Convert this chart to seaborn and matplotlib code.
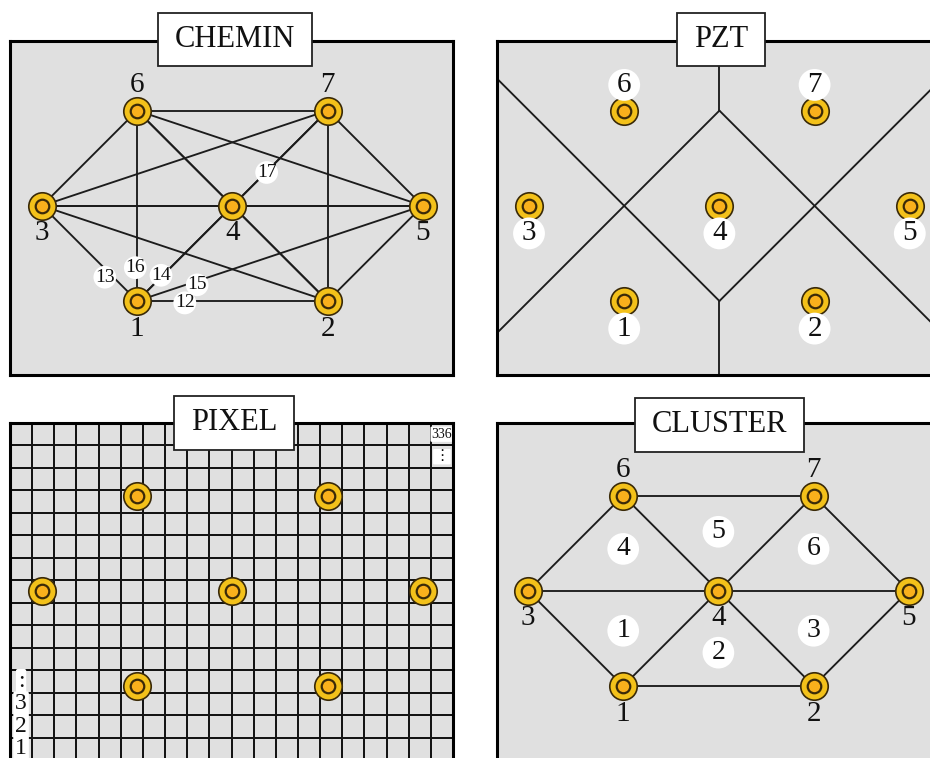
import numpy as np
import pandas as pd
import matplotlib
matplotlib.use("Agg")
import matplotlib.pyplot as plt
import seaborn as sns
from matplotlib.colors import ListedColormap

# ---------------- data ----------------
node_ids = [1, 2, 3, 4, 5, 6, 7]
node_x = [1, 3, 0, 2, 4, 1, 3]
node_y = [0, 0, 1, 1, 1, 2, 2]

# CHEMIN: every sensor pair is a path
chemin_from = [1, 1, 1, 1, 1, 1, 2, 2, 2, 2, 2, 3, 3, 3, 3, 4, 4, 4, 5, 5, 6]
chemin_to = [2, 3, 4, 5, 6, 7, 3, 4, 5, 6, 7, 4, 5, 6, 7, 5, 6, 7, 6, 7, 7]
path_label_ids = [12, 13, 14, 15, 16, 17]
path_label_x = [1.50, 0.66, 1.25, 1.63, 0.98, 2.36]
path_label_y = [-0.02, 0.25, 0.27, 0.17, 0.35, 1.35]

# PZT: Voronoi cell borders (vertex -> far end, clipped by the frame)
pzt_x0 = [2, 2, 2, 2, 2, 2]
pzt_y0 = [2, 0, 2, 0, 2, 0]
pzt_x1 = [-1, -1, 5, 5, 2, 2]
pzt_y1 = [-1, 3, -1, 3, 3, -1]

# PIXEL: regular grid of cells
pixel_rows = 15
pixel_cols = 20
pixel_label_text = ["1", "2", "3", ":", "336", "\u22ee"]
pixel_label_row = [14, 13, 12, 11, 0, 1]
pixel_label_col = [0, 0, 0, 0, 19, 19]

# CLUSTER: triangular sub-areas
cluster_from = [6, 3, 6, 7, 7, 3, 4, 3, 1, 4, 2, 1]
cluster_to = [7, 6, 4, 4, 5, 4, 5, 1, 4, 2, 5, 2]
cluster_ids = [1, 2, 3, 4, 5, 6]
cluster_x = [1, 2, 3, 1, 2, 3]
cluster_y = [0.58, 0.35, 0.58, 1.44, 1.62, 1.44]

titles = ["CHEMIN", "PZT", "PIXEL", "CLUSTER"]

# ---------------- style ----------------
sns.set_style("white")
FAMILY = ["Liberation Serif", "DejaVu Sans"]
plt.rcParams["font.family"] = FAMILY

GRAY = "#E0E0E0"
GOLD = "#F3C11A"
ORANGE = "#F9B01C"
DARK = "#3A2A08"
LINE = "#1C1C1C"

W, H = 930, 758
fig = plt.figure(figsize=(W / 100, H / 100), dpi=100)
fig.patch.set_facecolor("white")

UNIT = 95.2


def make_axes(box, origin):
    L, T, R, B = box
    ax = fig.add_axes([L / W, 1 - B / H, (R - L) / W, (B - T) / H])
    ox, oy = origin
    ax.set_xlim((L - ox) / UNIT, (R - ox) / UNIT)
    ax.set_ylim((oy - B) / UNIT, (oy - T) / UNIT)
    return ax


def finish(ax, face=GRAY):
    ax.set_facecolor(face)
    ax.set_xticks([])
    ax.set_yticks([])
    ax.set_xlabel("")
    ax.set_ylabel("")
    for sp in ax.spines.values():
        sp.set_visible(True)
        sp.set_linewidth(2.2)
        sp.set_color("black")
        sp.set_zorder(6)


def title_box(ax, box, center, text):
    L, T, R, B = box
    cx, cy = center
    ax.text((cx - L) / (R - L), (B - cy) / (B - T), text, transform=ax.transAxes,
            ha="center", va="center", fontsize=22, color="#111111", zorder=10,
            clip_on=False,
            bbox=dict(boxstyle="square,pad=0.55", mutation_aspect=0.72,
                      fc="white", ec="#222222", lw=1.3))


def draw_edges(ax, frm, to):
    rows = []
    for k, (a, b) in enumerate(zip(frm, to)):
        ia, ib = node_ids.index(a), node_ids.index(b)
        rows.append({"x": node_x[ia], "y": node_y[ia], "edge": k})
        rows.append({"x": node_x[ib], "y": node_y[ib], "edge": k})
    df = pd.DataFrame(rows)
    sns.lineplot(data=df, x="x", y="y", units="edge", estimator=None, sort=False,
                 color=LINE, linewidth=1.35, ax=ax, zorder=2, legend=False)


def draw_nodes(ax):
    sns.scatterplot(x=node_x, y=node_y, s=390, color=GOLD, edgecolor=DARK,
                    linewidth=1.2, ax=ax, zorder=4, legend=False)
    sns.scatterplot(x=node_x, y=node_y, s=95, color=ORANGE, edgecolor=DARK,
                    linewidth=1.6, ax=ax, zorder=5, legend=False)


def node_labels(ax, white=False):
    top = max(node_y)
    for nid, x, y in zip(node_ids, node_x, node_y):
        dy = 0.27 if y == top else -0.29
        kw = {}
        if white:
            kw["bbox"] = dict(boxstyle="circle,pad=0.1", fc="white", ec="none")
        ax.text(x, y + dy, str(nid), ha="center", va="center", fontsize=21,
                color="#111111", zorder=6, **kw)


# ---------------- panel 1: CHEMIN ----------------
box1 = (10, 41, 453, 375)
ax1 = make_axes(box1, (42, 301))
draw_edges(ax1, chemin_from, chemin_to)
draw_nodes(ax1)
node_labels(ax1)
for lid, x, y in zip(path_label_ids, path_label_x, path_label_y):
    ax1.text(x, y, str(lid), ha="center", va="center", fontsize=14, color="#111111",
             zorder=6, bbox=dict(boxstyle="circle,pad=0.08", fc="white", ec="none"))
finish(ax1)
title_box(ax1, box1, (235, 39.5), titles[0])

# ---------------- panel 2: PZT ----------------
box2 = (497, 41, 940, 375)
ax2 = make_axes(box2, (529, 301))
seg_rows = []
for k in range(len(pzt_x0)):
    seg_rows.append({"x": pzt_x0[k], "y": pzt_y0[k], "seg": k})
    seg_rows.append({"x": pzt_x1[k], "y": pzt_y1[k], "seg": k})
sns.lineplot(data=pd.DataFrame(seg_rows), x="x", y="y", units="seg", estimator=None,
             sort=False, color=LINE, linewidth=1.35, ax=ax2, zorder=2, legend=False)
ax2.set_xlim((497 - 529) / UNIT, (940 - 529) / UNIT)
ax2.set_ylim((301 - 375) / UNIT, (301 - 41) / UNIT)
draw_nodes(ax2)
node_labels(ax2, white=True)
finish(ax2)
title_box(ax2, box2, (721, 39.5), titles[1])

# ---------------- panel 3: PIXEL ----------------
box3 = (10, 423, 453, 760)
L, T, R, B = box3
axg = fig.add_axes([L / W, 1 - B / H, (R - L) / W, (B - T) / H])
annot = np.full((pixel_rows, pixel_cols), "", dtype=object)
for t, r, c in zip(pixel_label_text, pixel_label_row, pixel_label_col):
    annot[r, c] = t
sns.heatmap(np.zeros((pixel_rows, pixel_cols)), ax=axg, cmap=ListedColormap([GRAY]),
            cbar=False, linewidths=1.3, linecolor="#141414", annot=annot, fmt="",
            xticklabels=False, yticklabels=False,
            annot_kws={"fontsize": 17, "color": "#111111"})
for txt in axg.texts:
    s = txt.get_text()
    size = 10 if s == "336" else (11 if s == "\u22ee" else 17)
    txt.set_fontsize(size)
    txt.set_family(FAMILY)
    txt.set_bbox(dict(boxstyle="round,pad=0.08", fc="white", ec="none"))
axg.set_xticks([])
axg.set_yticks([])

ax3 = make_axes(box3, (42, 686))
draw_nodes(ax3)
finish(ax3, face="none")
title_box(ax3, box3, (234, 423), titles[2])

# ---------------- panel 4: CLUSTER ----------------
box4 = (497, 423, 940, 760)
ax4 = make_axes(box4, (528, 686))
draw_edges(ax4, cluster_from, cluster_to)
ax4.set_xlim((497 - 528) / UNIT, (940 - 528) / UNIT)
ax4.set_ylim((686 - 760) / UNIT, (686 - 423) / UNIT)
draw_nodes(ax4)
node_labels(ax4)
for cid, x, y in zip(cluster_ids, cluster_x, cluster_y):
    ax4.text(x, y, str(cid), ha="center", va="center", fontsize=20, color="#111111",
             zorder=6, bbox=dict(boxstyle="circle,pad=0.12", fc="white", ec="none"))
finish(ax4)
title_box(ax4, box4, (719.5, 425), titles[3])

fig.savefig("out.png", dpi=100, facecolor="white")
